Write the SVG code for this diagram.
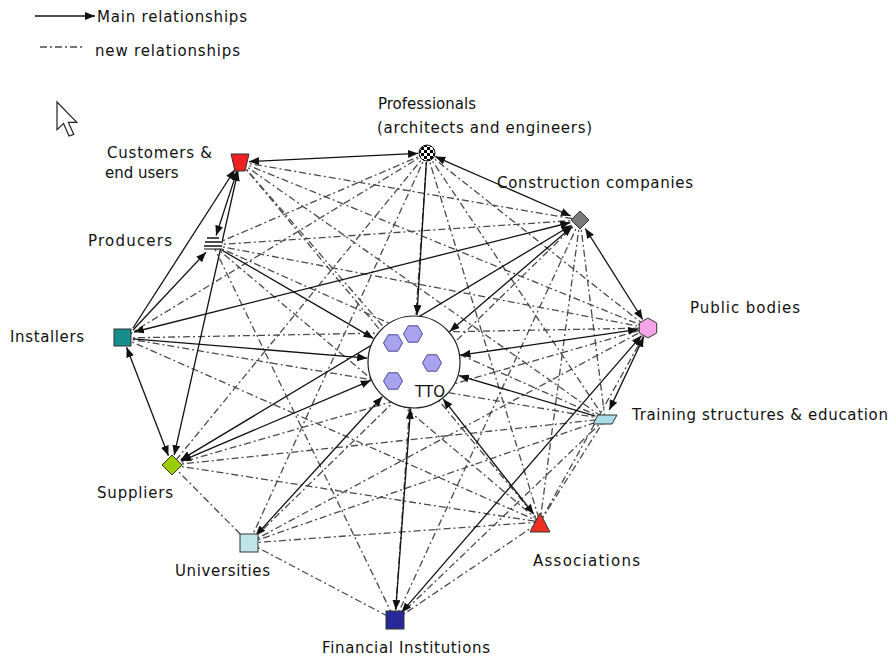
<svg xmlns="http://www.w3.org/2000/svg" width="890" height="657" viewBox="0 0 890 657">
<style>
.lbl{font-family:"DejaVu Sans","Verdana",sans-serif;font-size:15px;fill:#111}
.main{stroke:#111;stroke-width:1.3;fill:none}
.new{stroke:#4a4a4a;stroke-width:1.3;fill:none;stroke-dasharray:7 3 2 3}
.nd{stroke:#333;stroke-width:1}
.hex{fill:#a9a2ee;stroke:#4a4a9a;stroke-width:1}
</style>
<defs>
<marker id="ah" markerUnits="userSpaceOnUse" markerWidth="10" markerHeight="8" refX="10" refY="4" orient="auto-start-reverse">
<path d="M0,0 L10,4 L0,8 Z" fill="#111"/>
</marker>
<pattern id="chk" width="6" height="6" patternUnits="userSpaceOnUse" x="424" y="150">
<rect width="6" height="6" fill="#fff"/>
<rect width="3" height="3" fill="#000"/>
<rect x="3" y="3" width="3" height="3" fill="#000"/>
</pattern>
</defs>
<rect width="890" height="657" fill="#fff"/>

<g id="legend">
<line x1="35" y1="16" x2="95" y2="16" class="main" marker-end="url(#ah)"/>
<text class="lbl" x="97" y="22" textLength="150">Main relationships</text>
<line x1="40" y1="47" x2="84" y2="47" class="new"/>
<text class="lbl" x="95" y="56" textLength="145">new relationships</text>
</g>

<g id="cursor">
<path d="M57,102 L57,129.6 L63.6,123.6 L69,136 L73.8,134.4 L68.4,122.4 L76.8,122.4 Z" fill="#fff" stroke="#222" stroke-width="1.2" stroke-linejoin="miter"/>
</g>

<g id="connectors">
<g id="new-rel">
<line class="new" x1="240" y1="162" x2="580" y2="220"/>
<line class="new" x1="240" y1="162" x2="414" y2="362"/>
<line class="new" x1="240" y1="162" x2="605" y2="419"/>
<line class="new" x1="240" y1="162" x2="540" y2="522"/>
<line class="new" x1="240" y1="162" x2="648" y2="328"/>
<line class="new" x1="427" y1="153" x2="213" y2="245"/>
<line class="new" x1="427" y1="153" x2="123" y2="338"/>
<line class="new" x1="427" y1="153" x2="172" y2="465"/>
<line class="new" x1="427" y1="153" x2="249" y2="543"/>
<line class="new" x1="427" y1="153" x2="540" y2="522"/>
<line class="new" x1="427" y1="153" x2="605" y2="419"/>
<line class="new" x1="427" y1="153" x2="648" y2="328"/>
<line class="new" x1="427" y1="153" x2="395" y2="620"/>
<line class="new" x1="580" y1="220" x2="213" y2="245"/>
<line class="new" x1="580" y1="220" x2="249" y2="543"/>
<line class="new" x1="580" y1="220" x2="395" y2="620"/>
<line class="new" x1="580" y1="220" x2="540" y2="522"/>
<line class="new" x1="580" y1="220" x2="605" y2="419"/>
<line class="new" x1="213" y1="245" x2="648" y2="328"/>
<line class="new" x1="213" y1="245" x2="605" y2="419"/>
<line class="new" x1="213" y1="245" x2="540" y2="522"/>
<line class="new" x1="213" y1="245" x2="395" y2="620"/>
<line class="new" x1="123" y1="338" x2="648" y2="328"/>
<line class="new" x1="123" y1="338" x2="605" y2="419"/>
<line class="new" x1="123" y1="338" x2="540" y2="522"/>
<line class="new" x1="172" y1="465" x2="249" y2="543"/>
<line class="new" x1="172" y1="465" x2="540" y2="522"/>
<line class="new" x1="172" y1="465" x2="605" y2="419"/>
<line class="new" x1="172" y1="465" x2="648" y2="328"/>
<line class="new" x1="249" y1="543" x2="395" y2="620"/>
<line class="new" x1="249" y1="543" x2="540" y2="522"/>
<line class="new" x1="249" y1="543" x2="605" y2="419"/>
<line class="new" x1="249" y1="543" x2="648" y2="328"/>
<line class="new" x1="395" y1="620" x2="540" y2="522"/>
<line class="new" x1="395" y1="620" x2="605" y2="419"/>
<line class="new" x1="540" y1="522" x2="648" y2="328"/>
<line class="new" x1="540" y1="522" x2="605" y2="419"/>
</g>
<g id="main-rel">
<line class="main" x1="249" y1="161.6" x2="418" y2="153.4" marker-start="url(#ah)" marker-end="url(#ah)"/>
<line class="main" x1="133" y1="328" x2="235" y2="169.5" marker-end="url(#ah)"/>
<line class="main" x1="133" y1="330" x2="206" y2="252.2" marker-end="url(#ah)"/>
<line class="main" x1="216.1" y1="235.5" x2="237.2" y2="170.6" marker-start="url(#ah)" marker-end="url(#ah)"/>
<line class="main" x1="174.2" y1="455.2" x2="238" y2="171" marker-start="url(#ah)" marker-end="url(#ah)"/>
<line class="main" x1="221.6" y1="250" x2="373.4" y2="338.4" marker-end="url(#ah)"/>
<line class="main" x1="570.3" y1="222.5" x2="134" y2="332" marker-start="url(#ah)" marker-end="url(#ah)"/>
<line class="main" x1="133" y1="338.8" x2="367.2" y2="358.1" marker-end="url(#ah)"/>
<line class="main" x1="435.2" y1="156.6" x2="570.8" y2="216" marker-start="url(#ah)" marker-end="url(#ah)"/>
<line class="main" x1="426.4" y1="162" x2="416.9" y2="315.1" marker-end="url(#ah)"/>
<line class="main" x1="571.4" y1="225.2" x2="180.6" y2="459.9" marker-start="url(#ah)" marker-end="url(#ah)"/>
<line class="main" x1="572.4" y1="226.5" x2="449.7" y2="331.5" marker-start="url(#ah)" marker-end="url(#ah)"/>
<line class="main" x1="585.3" y1="228.5" x2="642.7" y2="319.5" marker-start="url(#ah)" marker-end="url(#ah)"/>
<line class="main" x1="638.1" y1="329.4" x2="460.5" y2="355.2" marker-start="url(#ah)" marker-end="url(#ah)"/>
<line class="main" x1="643.7" y1="337" x2="609.3" y2="409.9" marker-start="url(#ah)" marker-end="url(#ah)"/>
<line class="main" x1="595.4" y1="416.1" x2="459" y2="375.6" marker-end="url(#ah)"/>
<line class="main" x1="641.5" y1="335.6" x2="401.5" y2="612.4" marker-start="url(#ah)" marker-end="url(#ah)"/>
<line class="main" x1="255.7" y1="535.6" x2="382.3" y2="396.7" marker-start="url(#ah)" marker-end="url(#ah)"/>
<line class="main" x1="395.7" y1="610" x2="410.6" y2="408.9" marker-start="url(#ah)" marker-end="url(#ah)"/>
<line class="main" x1="533.8" y1="514.1" x2="443.1" y2="398.9" marker-start="url(#ah)" marker-end="url(#ah)"/>
<line class="main" x1="370.8" y1="380.4" x2="181.2" y2="461.1" marker-start="url(#ah)" marker-end="url(#ah)"/>
<line class="main" x1="126.6" y1="347.3" x2="168.4" y2="455.7" marker-start="url(#ah)" marker-end="url(#ah)"/>
</g>
</g>

<g id="tto">
<circle cx="414" cy="362" r="46" fill="#fff" stroke="#222" stroke-width="1.2"/>
<polygon class="hex" points="402.5,343 397.75,351.2 388.25,351.2 383.5,343 388.25,334.8 397.75,334.8"/>
<polygon class="hex" points="422.5,334 417.75,342.2 408.25,342.2 403.5,334 408.25,325.8 417.75,325.8"/>
<polygon class="hex" points="441.5,363 436.75,371.2 427.25,371.2 422.5,363 427.25,354.8 436.75,354.8"/>
<polygon class="hex" points="402.5,381 397.75,389.2 388.25,389.2 383.5,381 388.25,372.8 397.75,372.8"/>
<text class="lbl" x="415" y="397" textLength="30">TTO</text>
</g>

<g id="customers">
<polygon class="nd" points="231,154 249,154 245,171 235,171" fill="#ee2020"/>
<text class="lbl" x="107" y="158" textLength="105">Customers &amp;</text>
<text class="lbl" x="105" y="178">end users</text>
</g>

<g id="professionals">
<circle cx="427" cy="153" r="8" fill="url(#chk)" stroke="#111" stroke-width="1"/>
<text class="lbl" x="378" y="109">Professionals</text>
<text class="lbl" x="377" y="133" textLength="215">(architects and engineers)</text>
</g>

<g id="construction">
<polygon class="nd" points="580,211 589,220 580,229 571,220" fill="#7a7a7a"/>
<text class="lbl" x="497" y="188" textLength="196">Construction companies</text>
</g>

<g id="producers">
<rect x="204" y="236" width="18" height="13" fill="#fff"/>
<line x1="207" y1="238" x2="219" y2="238" stroke="#111" stroke-width="1.5"/>
<line x1="205" y1="242" x2="222" y2="242" stroke="#111" stroke-width="1.5"/>
<line x1="204" y1="246" x2="222" y2="246" stroke="#111" stroke-width="1.5"/>
<line x1="204" y1="249" x2="222" y2="249" stroke="#111" stroke-width="1"/>
<text class="lbl" x="88" y="246" textLength="84">Producers</text>
</g>

<g id="public">
<polygon class="nd" points="648,318 656.7,323 656.7,333 648,338 639.3,333 639.3,323" fill="#f4a6e8"/>
<text class="lbl" x="690" y="313" textLength="110">Public bodies</text>
</g>

<g id="installers">
<rect class="nd" x="114" y="329" width="17" height="17" fill="#168e8e"/>
<text class="lbl" x="10" y="342" textLength="74">Installers</text>
</g>

<g id="training">
<polygon class="nd" points="593,424 598,415 617,415 612,424" fill="#a8dce6"/>
<text class="lbl" x="632" y="420" textLength="256">Training structures &amp; education</text>
</g>

<g id="suppliers">
<polygon class="nd" points="172,455 182,465 172,475 162,465" fill="#9acc00"/>
<text class="lbl" x="97" y="498" textLength="76">Suppliers</text>
</g>

<g id="universities">
<rect class="nd" x="240" y="534" width="18" height="18" fill="#bfe5e8"/>
<text class="lbl" x="175" y="576" textLength="95">Universities</text>
</g>

<g id="financial">
<rect class="nd" x="386" y="611" width="18" height="18" fill="#28289a"/>
<text class="lbl" x="322" y="653" textLength="168">Financial Institutions</text>
</g>

<g id="associations">
<polygon class="nd" points="540,513 550,532 530,532" fill="#ee3020"/>
<text class="lbl" x="533" y="566" textLength="107">Associations</text>
</g>
</svg>
